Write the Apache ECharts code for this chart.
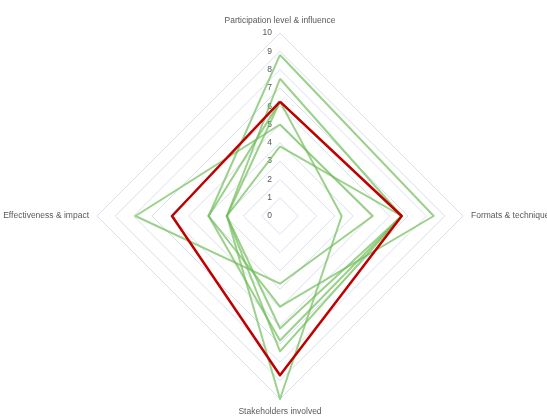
<!DOCTYPE html>
<html>
<head>
<meta charset="utf-8">
<script src="https://cdn.jsdelivr.net/npm/echarts@6/dist/echarts.min.js"></script>
<style>
  html, body { margin: 0; padding: 0; background: #ffffff; }
  #chart { width: 547px; height: 416px; }
</style>
</head>
<body>
<div id="chart"></div>
<script>
// Dimensions, in the order [participation, formats, stakeholders, effectiveness]
const dimensions = ['Participation level & influence', 'Formats & techniques', 'Stakeholders involved', 'Effectiveness & impact'];
const scaleTicks = ['0', '1', '2', '3', '4', '5', '6', '7', '8', '9', '10'];

// Individual cases
const caseA = [8.8, 8.4, 4.95, 3.9];
const caseB = [7.5, 6.65, 7.4, 2.9];
const caseC = [6.25, 3.37, 10, 2.9];
const caseD = [5.0, 5.07, 3.7, 7.9];
const caseE = [3.8, 6.65, 6.15, 2.9];
const caseF = [6.25, 6.65, 6.8, 3.9];
const cases = [caseA, caseB, caseC, caseD, caseE, caseF];

// Highlighted reference profile
const highlight = [6.25, 6.65, 8.7, 5.9];

// Radar axes run counter-clockwise from the top: participation, effectiveness, stakeholders, formats
const axisOrder = [0, 3, 2, 1];
const toAxis = v => axisOrder.map(i => v[i]);

const chart = echarts.init(document.getElementById('chart'), null, { renderer: 'canvas' });

const indicator = axisOrder.map((i, k) => ({
  name: dimensions[i],
  min: 0,
  max: 10,
  axisLabel: { show: k === 0 }
}));

chart.setOption({
  animation: false,
  radar: {
    center: [280, 216],
    radius: 183,
    startAngle: 90,
    shape: 'polygon',
    splitNumber: 10,
    indicator: indicator,
    nameGap: 8,
    axisName: {
      color: '#595959',
      fontSize: 8.5,
      fontFamily: 'Liberation Sans'
    },
    axisLine: { show: false },
    axisTick: { show: false },
    axisLabel: {
      show: false,
      color: '#595959',
      fontSize: 8.5,
      fontFamily: 'Liberation Sans',
      margin: 8,
      formatter: v => scaleTicks[Math.round(v)] ?? ''
    },
    splitLine: { lineStyle: { color: '#d8e0eb', width: 1 } },
    splitArea: { show: false }
  },
  series: [
    {
      type: 'radar',
      symbol: 'none',
      silent: true,
      lineStyle: { color: 'rgba(112, 190, 90, 0.7)', width: 2 },
      data: cases.map(c => ({ value: toAxis(c) }))
    },
    {
      type: 'radar',
      symbol: 'none',
      silent: true,
      z: 3,
      lineStyle: { color: '#c00000', width: 2.5 },
      data: [{ value: toAxis(highlight) }]
    }
  ]
});
</script>
</body>
</html>
